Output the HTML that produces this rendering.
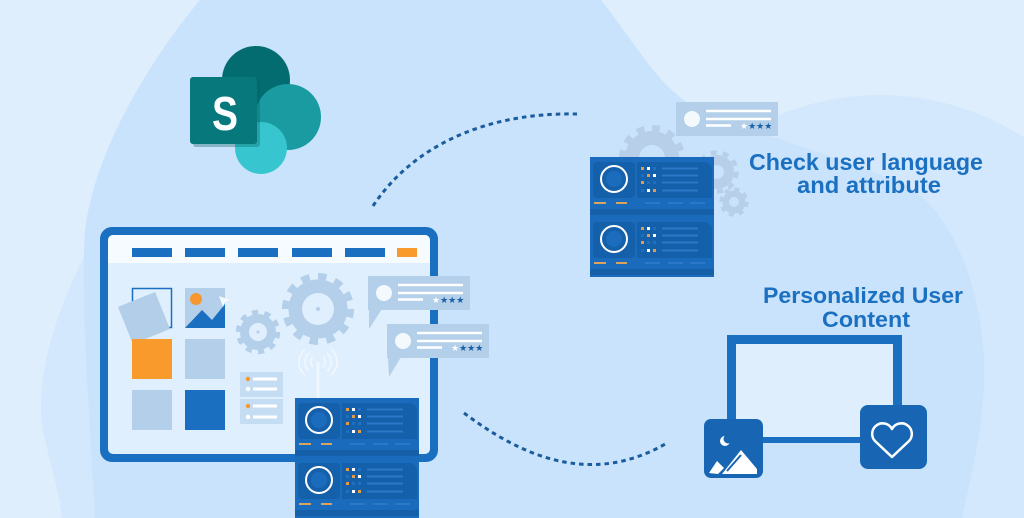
<!DOCTYPE html>
<html><head><meta charset="utf-8"><style>
html,body{margin:0;padding:0;width:1024px;height:518px;overflow:hidden;background:#deeefd}
svg{display:block;overflow:hidden;position:absolute;left:0;top:0}
text{font-family:"Liberation Sans",Arial,sans-serif}
</style></head><body>
<svg width="1024" height="518" viewBox="0 0 1024 518" xmlns="http://www.w3.org/2000/svg">
<defs>
  <g id="srv">
    <rect x="0" y="0" width="124" height="60" fill="#1a6bbb"/>
    <rect x="3" y="5" width="42" height="36" rx="4" fill="#1560aa"/>
    <path d="M47,5 H114 A8,8 0 0 1 122,13 V41 H47 Z" fill="#1560aa"/>
    <circle cx="24" cy="22" r="8" fill="#1b6cbc"/>
    <circle cx="24" cy="22" r="13" fill="none" stroke="#fff" stroke-width="2"/>
    <rect x="51" y="10" width="3" height="3" fill="#e69a45"/>
    <rect x="57" y="10" width="3" height="3" fill="#fff"/>
    <rect x="63" y="10" width="3" height="3" fill="#1f70c0"/>
    <rect x="51" y="17" width="3" height="3" fill="#1f70c0"/>
    <rect x="57" y="17" width="3" height="3" fill="#e69a45"/>
    <rect x="63" y="17" width="3" height="3" fill="#fff"/>
    <rect x="51" y="24" width="3" height="3" fill="#e69a45"/>
    <rect x="57" y="24" width="3" height="3" fill="#1f70c0"/>
    <rect x="63" y="24" width="3" height="3" fill="#1f70c0"/>
    <rect x="51" y="32" width="3" height="3" fill="#1f70c0"/>
    <rect x="57" y="32" width="3" height="3" fill="#fff"/>
    <rect x="63" y="32" width="3" height="3" fill="#e69a45"/>
    <g stroke="#2a78c6" stroke-width="2">
      <line x1="72" y1="11.5" x2="108" y2="11.5"/>
      <line x1="72" y1="18.5" x2="108" y2="18.5"/>
      <line x1="72" y1="25.5" x2="108" y2="25.5"/>
      <line x1="72" y1="33.5" x2="108" y2="33.5"/>
      <line x1="55" y1="46" x2="70" y2="46"/>
      <line x1="78" y1="46" x2="93" y2="46"/>
      <line x1="100" y1="46" x2="115" y2="46"/>
    </g>
    <g stroke="#dca35c" stroke-width="2">
      <line x1="4" y1="46" x2="16" y2="46"/>
      <line x1="26" y1="46" x2="37" y2="46"/>
    </g>
    <rect x="0" y="52" width="124" height="6" fill="#165fa9"/>
  </g>
  <g id="bub">
    <rect x="0" y="0" width="102" height="34" fill="#b3cfe9"/>
    <circle cx="16" cy="17" r="8" fill="#f4f9fe"/>
    <g stroke="#fff" stroke-width="2.5">
      <line x1="30" y1="9" x2="95" y2="9"/>
      <line x1="30" y1="17" x2="95" y2="17"/>
      <line x1="30" y1="23.5" x2="55" y2="23.5"/>
    </g>
    <text x="64" y="27" font-size="9"><tspan fill="#fff">★</tspan><tspan fill="#1b5fa5">★★★</tspan></text>
  </g>
</defs>

<!-- background -->
<rect width="1024" height="518" fill="#deeefd"/>
<path d="M667.3,518 A265,265 0 0 1 1024,137.5 L1024,518 Z" fill="#d3e8fc"/>
<path d="M95,235 C60,300 30,380 45,440 C55,480 60,500 62,518 L200,518 L200,235 Z" fill="#d3e8fc"/>
<path d="M200,0 L601,0 C640,50 660,90 700,110 C760,135 850,160 905,185 C950,210 980,280 984,360 C986,420 970,480 962,518 L95,518 C90,420 80,300 85,230 C95,150 150,60 200,0 Z" fill="#c8e3fb"/>

<!-- SharePoint logo -->
<circle cx="256" cy="80" r="34" fill="#036c70"/>
<circle cx="288" cy="117" r="33" fill="#1a9ba1"/>
<circle cx="261" cy="148" r="26" fill="#37c6d0"/>
<rect x="193" y="79" width="67" height="68" rx="3" fill="#0a5f62" opacity="0.35"/>
<rect x="190" y="77" width="67" height="67" rx="3" fill="#07787c"/>
<text x="212" y="130" font-size="48" font-weight="bold" fill="#fff" textLength="26" lengthAdjust="spacingAndGlyphs">S</text>

<!-- dashed connectors -->
<path d="M373,206 C410,150 480,112 577,114" fill="none" stroke="#1a5c9c" stroke-width="3" stroke-dasharray="4.5 4"/>
<path d="M464,413 C520,455 590,488 667,443" fill="none" stroke="#1a5c9c" stroke-width="3" stroke-dasharray="4.5 4"/>

<!-- monitor -->
<rect x="100" y="227" width="338" height="235" rx="12" fill="#1a6fc0"/>
<rect x="108" y="235" width="322" height="219" rx="5" fill="#dfeffd"/>
<path d="M113,235 H425 A5,5 0 0 1 430,240 V263 H108 V240 A5,5 0 0 1 113,235 Z" fill="#f6fbff"/>
<g fill="#1b6fc0">
  <rect x="132" y="248" width="40" height="9"/>
  <rect x="185" y="248" width="40" height="9"/>
  <rect x="238" y="248" width="40" height="9"/>
  <rect x="292" y="248" width="40" height="9"/>
  <rect x="345" y="248" width="40" height="9"/>
</g>
<rect x="397" y="248" width="20" height="9" fill="#f89a2c"/>

<!-- tiles -->
<rect x="132.5" y="288.5" width="39" height="39" fill="none" stroke="#1a6fc0" stroke-width="1.5"/>
<rect x="124" y="298" width="40" height="40" fill="#b2cee8" transform="rotate(-22 144 318)"/>
<rect x="185" y="288" width="40" height="40" fill="#b3cfe9"/>
<circle cx="196" cy="299" r="6" fill="#f7972f"/>
<polygon points="185,328 202,310 212,320 225,304 225,328" fill="#1a6fc0"/>
<polygon points="219,296 230,300 225,302 223,307" fill="#f4f9fe"/>
<rect x="132" y="339" width="40" height="40" fill="#f89a2c"/>
<rect x="185" y="339" width="40" height="40" fill="#b3cfe9"/>
<rect x="132" y="390" width="40" height="40" fill="#b3cfe9"/>
<rect x="185" y="390" width="40" height="40" fill="#1a6fc0"/>

<!-- gears in monitor -->
<g fill="#b3cfe9">
  <circle cx="318" cy="309" r="29.5"/>
  <circle cx="318" cy="309" r="32.7" fill="none" stroke="#b3cfe9" stroke-width="6.6" stroke-dasharray="8.5 8.6"/>
  <circle cx="318" cy="309" r="16" fill="#dfeffd"/>
  <circle cx="318" cy="309" r="2"/>
  <circle cx="258" cy="332" r="18"/>
  <circle cx="258" cy="332" r="20" fill="none" stroke="#b3cfe9" stroke-width="4.4" stroke-dasharray="6.3 6.27"/>
  <circle cx="258" cy="332" r="9" fill="#dfeffd"/>
  <circle cx="258" cy="332" r="1.5"/>
</g>

<!-- list cards -->
<rect x="240" y="372" width="43" height="25" fill="#c5ddf3"/>
<rect x="240" y="399" width="43" height="25" fill="#c5ddf3"/>
<g stroke="#fff" stroke-width="3">
  <line x1="253" y1="379" x2="277" y2="379"/>
  <line x1="253" y1="389" x2="277" y2="389"/>
  <line x1="253" y1="406" x2="277" y2="406"/>
  <line x1="253" y1="417" x2="277" y2="417"/>
</g>
<circle cx="248" cy="379" r="2.2" fill="#f7972f"/>
<circle cx="248" cy="389" r="2.2" fill="#fff"/>
<circle cx="248" cy="406" r="2.2" fill="#f7972f"/>
<circle cx="248" cy="417" r="2.2" fill="#fff"/>

<!-- antenna -->
<line x1="318" y1="362" x2="318" y2="400" stroke="#eef6fe" stroke-width="3"/>
<g fill="none" stroke="#f2f8fe" stroke-width="1.5">
  <path d="M313,357 A7,7 0 0 0 313,367"/>
  <path d="M323,357 A7,7 0 0 1 323,367"/>
  <path d="M309,353 A12,12 0 0 0 309,371"/>
  <path d="M327,353 A12,12 0 0 1 327,371"/>
  <path d="M305,349 A17,17 0 0 0 305,375"/>
  <path d="M331,349 A17,17 0 0 1 331,375"/>
</g>

<!-- chat bubbles left -->
<polygon points="369,309 382,309 369,329" fill="#b3cfe9"/>
<use href="#bub" x="368" y="276"/>
<polygon points="388,357 401,357 389,377" fill="#b3cfe9"/>
<use href="#bub" x="387" y="324"/>

<!-- front server -->
<use href="#srv" x="295" y="398"/>
<use href="#srv" x="295" y="458"/>

<!-- upper right gears -->
<g fill="#b7cfe8">
  <circle cx="652" cy="158" r="27"/>
  <circle cx="652" cy="158" r="30" fill="none" stroke="#b7cfe8" stroke-width="6" stroke-dasharray="7.85 7.85"/>
  <circle cx="652" cy="158" r="13" fill="#c8e3fb"/>
  <circle cx="717" cy="172" r="17"/>
  <circle cx="717" cy="172" r="19.5" fill="none" stroke="#b7cfe8" stroke-width="4.5" stroke-dasharray="6.1 6.1"/>
  <circle cx="717" cy="172" r="7" fill="#c8e3fb"/>
  <circle cx="734" cy="202" r="11.5"/>
  <circle cx="734" cy="202" r="13" fill="none" stroke="#b7cfe8" stroke-width="3.2" stroke-dasharray="5.1 5.1"/>
  <circle cx="734" cy="202" r="5" fill="#c8e3fb"/>
</g>
<use href="#bub" x="676" y="102"/>

<!-- upper right server -->
<use href="#srv" x="590" y="157"/>
<use href="#srv" x="590" y="217"/>

<!-- labels -->
<g fill="#1b70c1" font-weight="bold">
  <text x="749" y="170" font-size="23" textLength="234" lengthAdjust="spacingAndGlyphs">Check user language</text>
  <text x="797" y="193" font-size="23" textLength="144" lengthAdjust="spacingAndGlyphs">and attribute</text>
  <text x="763" y="303" font-size="22" textLength="200" lengthAdjust="spacingAndGlyphs">Personalized User</text>
  <text x="822" y="327" font-size="22" textLength="88" lengthAdjust="spacingAndGlyphs">Content</text>
</g>

<!-- personalized content device -->
<rect x="727" y="335" width="175" height="108" fill="#1a6fc0"/>
<rect x="736" y="344" width="157" height="93" fill="#deeefd"/>
<rect x="704" y="419" width="59" height="59" rx="7" fill="#1866b3"/>
<circle cx="725" cy="441" r="5" fill="#fff"/>
<circle cx="728" cy="439" r="4.5" fill="#1866b3"/>
<polygon points="709,473 717,461 724,468 718,474" fill="#fff"/>
<polygon points="722,474 741,450 757,469 757,474" fill="#fff"/>
<path d="M727,471 L741,455" stroke="#1866b3" stroke-width="2"/>
<rect x="860" y="405" width="67" height="64" rx="8" fill="#1866b3"/>
<path d="M892,457 L875,441 A10.5,10.5 0 1 1 892,429 A10.5,10.5 0 1 1 909,441 Z" fill="none" stroke="#fff" stroke-width="2.5" stroke-linejoin="round"/>
</svg>
</body></html>
